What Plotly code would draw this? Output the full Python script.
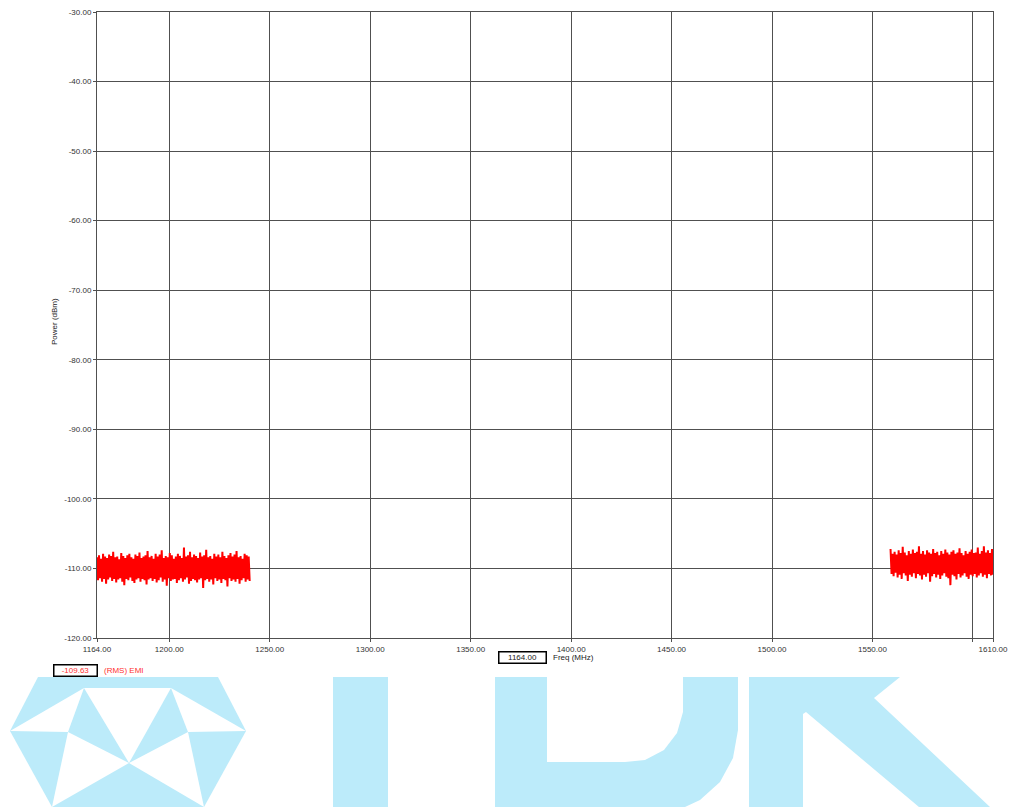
import numpy as np
import plotly.graph_objects as go

# ---------------- data ----------------
left_band_mhz = [1164.0, 1240.0]      # sweep start / stop of first band
right_band_mhz = [1559.0, 1610.0]     # sweep start / stop of second band

left_upper = [-108.4,-108.1,-108.6,-107.9,-108.3,-108.5,-108.0,-108.2,-107.6,-108.4,
              -108.3,-108.7,-107.8,-108.2,-108.5,-108.1,-107.9,-108.4,-108.6,-108.0,
              -108.2,-107.7,-108.5,-108.3,-108.1,-107.5,-108.4,-108.2,-108.6,-107.9,
              -108.3,-108.0,-107.4,-108.5,-108.2,-108.4,-107.8,-108.1,-108.6,-108.3,
              -107.9,-108.2,-108.5,-107.0,-108.3,-108.1,-107.6,-108.4,-108.0,-108.2,
              -108.5,-107.7,-108.3,-108.1,-107.3,-108.4,-108.2,-108.6,-107.9,-108.3,
              -108.0,-108.4,-107.6,-108.2,-108.5,-108.1,-107.8,-108.3,-108.0,-107.5,
              -108.4,-108.2,-108.6,-107.9,-108.1,-108.3]
left_lower = [-111.7,-111.4,-111.9,-111.5,-112.2,-111.6,-111.3,-111.8,-111.5,-112.0,
              -111.6,-111.4,-111.9,-112.4,-111.5,-111.7,-111.3,-111.8,-112.1,-111.6,
              -111.4,-111.9,-111.5,-111.7,-112.3,-111.6,-111.4,-111.8,-111.5,-112.0,
              -111.7,-111.3,-111.9,-111.6,-112.5,-111.4,-111.8,-111.6,-111.5,-112.1,
              -111.7,-111.4,-111.9,-111.6,-111.3,-112.2,-111.8,-111.5,-111.7,-112.0,
              -111.6,-111.4,-112.8,-111.7,-111.5,-111.9,-111.6,-112.3,-111.4,-111.8,
              -111.6,-112.1,-111.5,-111.7,-112.6,-111.4,-111.8,-111.6,-111.9,-111.5,
              -112.2,-111.7,-111.4,-111.9,-111.6,-111.8]
right_upper = [-107.2,-107.9,-107.6,-108.0,-107.4,-107.8,-106.9,-107.7,-108.1,-107.5,
               -107.9,-107.3,-107.8,-107.6,-106.8,-107.9,-107.5,-108.0,-107.4,-107.7,
               -107.9,-107.2,-107.8,-107.6,-108.1,-107.5,-107.9,-107.3,-107.7,-108.0,
               -107.6,-107.4,-107.9,-107.7,-107.1,-107.8,-108.1,-107.5,-107.9,-107.6,
               -107.3,-107.8,-107.7,-107.0,-107.9,-107.5,-106.8,-107.7,-107.4,-107.8,-107.2]
right_lower = [-110.8,-111.1,-110.6,-111.3,-110.9,-111.5,-110.7,-111.0,-111.8,-110.9,
               -111.2,-110.7,-111.4,-110.8,-111.0,-111.6,-110.9,-111.2,-110.7,-111.9,
               -111.1,-110.8,-111.3,-110.9,-111.5,-111.0,-110.7,-111.2,-111.4,-112.4,
               -110.9,-111.1,-111.6,-110.8,-111.3,-111.0,-110.7,-111.2,-111.5,-110.9,
               -111.1,-110.8,-111.3,-111.0,-110.7,-111.2,-110.9,-111.4,-110.8,-111.0,-110.9]

x_tick_vals = [1164, 1200, 1250, 1300, 1350, 1400, 1450, 1500, 1550, 1600, 1610]
x_tick_text = ["1164.00", "1200.00", "1250.00", "1300.00", "1350.00", "1400.00",
               "1450.00", "1500.00", "1550.00", "", "1610.00"]
y_tick_vals = [-120, -110, -100, -90, -80, -70, -60, -50, -40, -30]
y_tick_text = ["%.2f" % v for v in y_tick_vals]

rms_value = "-109.63"
rms_label = "(RMS) EMI"
cursor_freq = "1164.00"
x_title = "Freq (MHz)"
y_title = "Power (dBm)"

# ---------------- layout geometry (reference pixel frame) ----------------
W, H = 1010, 807
L, R, T, B = 97, 993, 12, 638


def px(x):
    return (x - L) / (R - L)


def py(y):
    return (B - y) / (B - T)


def interleave(up, lo):
    out = []
    for u, l in zip(up, lo):
        out += [u, l]
    return out


fig = go.Figure()
for band, up, lo in [(left_band_mhz, left_upper, left_lower),
                     (right_band_mhz, right_upper, right_lower)]:
    yv = interleave(up, lo)
    xv = np.linspace(band[0], band[1], len(yv))
    fig.add_trace(go.Scatter(x=xv, y=yv, mode="lines",
                             line=dict(color="#ff0000", width=2, simplify=False),
                             showlegend=False, hoverinfo="skip"))

# ---------------- TDK watermark (decoration) ----------------
logo_col = "#bcebfa"


def poly(points):
    return "M " + " L ".join("%f,%f" % (px(a), py(b)) for a, b in points) + " Z"


def add_poly(shapes, pts, col):
    shapes.append(dict(type="path", path=poly(pts), xref="paper", yref="paper",
                       fillcolor=col, line=dict(width=0), layer="below"))


shapes = []
add_poly(shapes, [(38, 677), (218, 677), (246, 731), (204, 807), (52, 807), (10, 731)], logo_col)
for tri in [
    [(84, 688), (171, 688), (129, 763)],
    [(10, 731), (84, 688), (68, 732)],
    [(246, 731), (171, 688), (188, 732)],
    [(68, 732), (129, 763), (52, 807)],
    [(188, 732), (129, 763), (204, 807)],
]:
    add_poly(shapes, tri, "white")
# T stem
add_poly(shapes, [(333, 677), (388, 677), (388, 807), (333, 807)], logo_col)
# D
add_poly(shapes, [(495, 677), (738, 677), (738, 730), (733, 758), (720, 782), (700, 800),
                  (685, 807), (495, 807)], logo_col)
add_poly(shapes, [(547, 677), (683, 677), (683, 712), (677, 733), (664, 750), (645, 760),
                  (625, 762), (547, 762)], "white")
# K
add_poly(shapes, [(749, 677), (803, 677), (803, 807), (749, 807)], logo_col)
add_poly(shapes, [(803, 677), (900, 677), (874, 698), (990, 807), (919, 807), (806, 712),
                  (803, 714)], logo_col)

# ---------------- annotations ----------------
font = dict(family="Liberation Sans, Arial, sans-serif", size=8)
ann = [
    dict(x=px(75), y=py(670.5), text=rms_value, showarrow=False, xref="paper", yref="paper",
         font=dict(font, color="#ff3030"), bordercolor="#000", borderwidth=1.5,
         width=42, height=10, borderpad=0, bgcolor="white", xanchor="center", yanchor="middle"),
    dict(x=px(102), y=py(670.5), text=rms_label, showarrow=False, xref="paper", yref="paper",
         font=dict(font, color="#ff3030"), xanchor="left", yanchor="middle"),
    dict(x=px(522), y=py(657.5), text=cursor_freq, showarrow=False, xref="paper", yref="paper",
         font=dict(font, color="#222"), bordercolor="#000", borderwidth=1.5,
         width=46, height=10, borderpad=0, bgcolor="white", xanchor="center", yanchor="middle"),
    dict(x=px(551), y=py(657.5), text=x_title, showarrow=False, xref="paper", yref="paper",
         font=dict(font, color="#222"), xanchor="left", yanchor="middle"),
    dict(x=px(54), y=py(322), text=y_title, showarrow=False, xref="paper", yref="paper",
         font=dict(font, color="#222"), textangle=-90, xanchor="center", yanchor="middle"),
]

grid_col = "#505050"
axis_common = dict(showgrid=True, gridcolor=grid_col, gridwidth=1, zeroline=False,
                   showline=True, linecolor=grid_col, linewidth=1, mirror=True,
                   ticks="outside", ticklen=3, tickcolor=grid_col, automargin=False,
                   ticklabeloverflow="allow",
                   tickfont=dict(font, color="#333"))
fig.update_layout(
    width=W, height=H,
    margin=dict(l=L, r=W - R, t=T, b=H - B, pad=0, autoexpand=False),
    paper_bgcolor="white", plot_bgcolor="rgba(0,0,0,0)",
    shapes=shapes, annotations=ann, font=font,
    xaxis=dict(axis_common, range=[1164, 1610], tickvals=x_tick_vals, ticktext=x_tick_text),
    yaxis=dict(axis_common, range=[-120, -30], tickvals=y_tick_vals, ticktext=y_tick_text),
)

# remove the default page margin so the figure sits at the window origin
fig.write_html("out.html",
               config={"displayModeBar": False, "staticPlot": True},
               post_script="document.body.style.margin='0';document.body.style.overflow='hidden';")
